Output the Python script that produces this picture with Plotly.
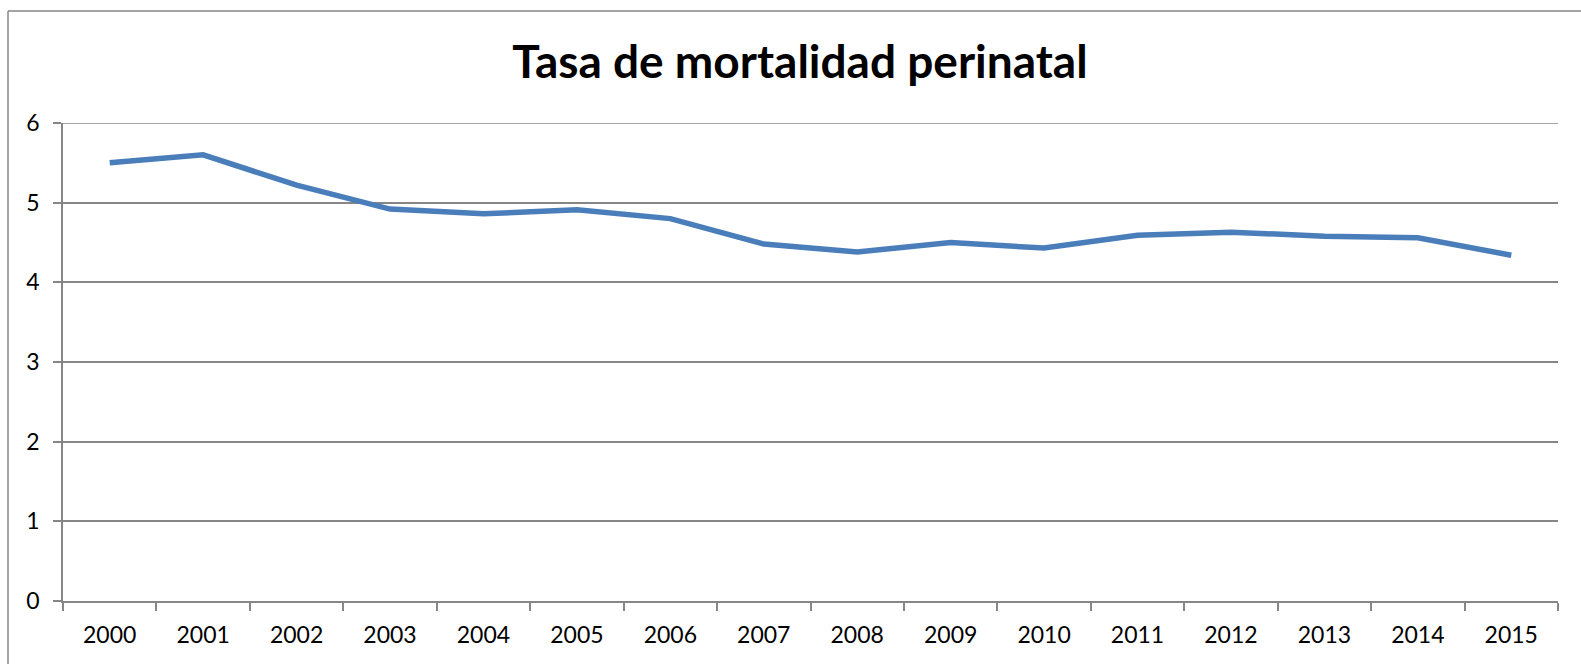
import plotly.graph_objects as go

# Perinatal mortality rate by year
years = ["2000", "2001", "2002", "2003", "2004", "2005", "2006", "2007",
         "2008", "2009", "2010", "2011", "2012", "2013", "2014", "2015"]
rates = [5.50, 5.60, 5.22, 4.92, 4.86, 4.91, 4.80, 4.48,
         4.38, 4.50, 4.43, 4.59, 4.63, 4.58, 4.56, 4.34]
y_ticks = [0, 1, 2, 3, 4, 5, 6]

W, H = 1581, 664
ML, MR, MT, MB = 63, 23, 123, 63
GRID = "#868686"
FONT = "Lato, 'Open Sans', sans-serif"

fig = go.Figure(
    go.Scatter(
        x=years, y=rates, mode="lines",
        line=dict(color="#4A7EBB", width=5.5),
        hoverinfo="x+y",
    )
)

# Top gridline sits on the plot edge, so draw it explicitly
fig.add_shape(type="line", xref="paper", yref="y",
              x0=0, x1=1, y0=max(y_ticks), y1=max(y_ticks),
              line=dict(color=GRID, width=1.5), layer="below")

# Outer chart-area frame (left and top edges visible)
pw, ph = W - ML - MR, H - MT - MB
fx0 = (8 - ML) / pw
fy1 = (H - MB - 11) / ph
fig.add_shape(type="line", xref="paper", yref="paper",
              x0=fx0, x1=fx0, y0=-MB / ph - 0.05, y1=fy1,
              line=dict(color=GRID, width=1.5))
fig.add_shape(type="line", xref="paper", yref="paper",
              x0=fx0, x1=(W - ML + 10) / pw, y0=fy1, y1=fy1,
              line=dict(color=GRID, width=1.5))

fig.update_layout(
    width=W, height=H,
    margin=dict(l=ML, r=MR, t=MT, b=MB),
    paper_bgcolor="white", plot_bgcolor="white",
    showlegend=False,
    font=dict(family=FONT, color="black", size=23),
    title=dict(
        text="<b>Tasa de mortalidad perinatal</b>",
        font=dict(family=FONT, size=46, color="black"),
        x=800 / W, xanchor="center", xref="container",
        y=1 - 62 / H, yanchor="middle",
    ),
    xaxis=dict(
        type="category", range=[-0.5, len(years) - 0.5],
        tickmode="array", tickvals=years, ticktext=years,
        tickson="boundaries", ticks="outside", ticklen=8, tickwidth=1.5,
        tickcolor=GRID, showline=True, linecolor=GRID, linewidth=1.5,
        showgrid=False, zeroline=False, ticklabelstandoff=13,
        tickfont=dict(family=FONT, size=23, color="black"),
    ),
    yaxis=dict(
        range=[0, 6], tickmode="array", tickvals=y_ticks,
        ticks="outside", ticklen=8, tickwidth=1.5, tickcolor=GRID,
        showline=True, linecolor=GRID, linewidth=1.5,
        showgrid=True, gridcolor=GRID, gridwidth=1.5,
        zeroline=False, ticklabelstandoff=9,
        tickfont=dict(family=FONT, size=23, color="black"),
    ),
)

fig.write_html("out.html")
